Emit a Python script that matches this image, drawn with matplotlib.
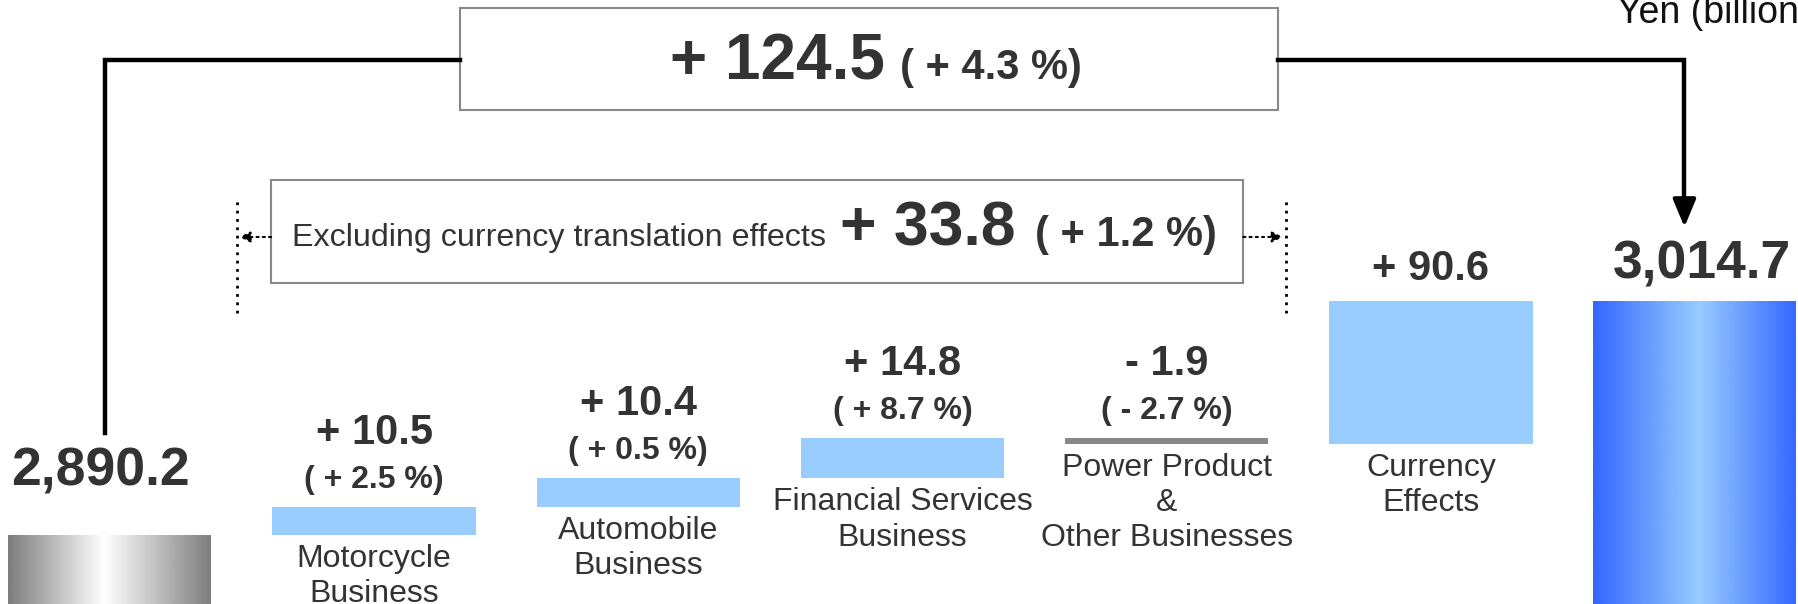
import numpy as np
import matplotlib.pyplot as plt
from matplotlib.colors import LinearSegmentedColormap
from matplotlib.patches import Rectangle

plt.rcParams['font.family'] = ['Liberation Sans', 'DejaVu Sans']

# data (yen billions)
start_value = 2890.2
end_value = 3014.7
categories = ['Motorcycle\nBusiness', 'Automobile\nBusiness', 'Financial Services\nBusiness',
              'Power Product\n&\nOther Businesses', 'Currency\nEffects']
changes = [10.5, 10.4, 14.8, -1.9, 90.6]
change_labels = ['+ 10.5', '+ 10.4', '+ 14.8', '- 1.9', '+ 90.6']
pct_labels = ['( + 2.5 %)', '( + 0.5 %)', '( + 8.7 %)', '( - 2.7 %)', '']
start_label = '2,890.2'
end_label = '3,014.7'
total_change_label = '+ 124.5'
total_pct_label = '( + 4.3 %)'
excl_text = 'Excluding currency translation effects'
excl_change_label = '+ 33.8'
excl_pct_label = '( + 1.2 %)'
unit_label = 'Yen (billions)'

TXT = '#333333'
LIGHT = '#99ccff'
bar_colors = [LIGHT, LIGHT, LIGHT, '#888888', LIGHT]

# the original chart squeezes the currency step, so do the same with a piecewise scale
BREAK = 2926.0
SQUEEZE = 0.574


def fwd(v):
    v = np.asarray(v, dtype=float)
    return np.where(v <= BREAK, v, BREAK + (v - BREAK) * SQUEEZE)


def inv(t):
    t = np.asarray(t, dtype=float)
    return np.where(t <= BREAK, t, BREAK + (t - BREAK) / SQUEEZE)


W, H = 1798, 604
fig = plt.figure(figsize=(W / 100, H / 100), dpi=100)
ax = fig.add_axes([0, 0, 1, 1])
ax.axis('off')
ax.set_yscale('function', functions=(fwd, inv))

px_per_unit = 2.7
y_bottom = 2864.6
y_top = float(inv(y_bottom + H / px_per_unit))


def fy(py):
    # pixel row from top -> axes fraction
    return 1 - py / H


trans = ax.get_xaxis_transform()

# step bars
steps = np.array(changes)
bottoms = start_value + np.cumsum(steps) - steps
xs = np.arange(1, len(changes) + 1)
bars = ax.bar(xs, steps, bottom=bottoms, width=0.77, color=bar_colors, zorder=2)

# start / end bars with gradient fill
gray_cmap = LinearSegmentedColormap.from_list('g', [(0, '#7d7d7d'), (0.47, '#ffffff'), (1, '#7d7d7d')])
blue_cmap = LinearSegmentedColormap.from_list('b', [(0, '#3366ff'), (0.52, '#99ccff'), (1, '#3366ff')])
ends = ax.bar([0, len(changes) + 1], [start_value, end_value], width=0.77, color='none', zorder=2)
grad = np.linspace(0, 1, 256).reshape(1, -1)
for patch, cmap in zip(ends, [gray_cmap, blue_cmap]):
    x0 = patch.get_x()
    x1 = x0 + patch.get_width()
    im = ax.imshow(grad, cmap=cmap, extent=[x0, x1, y_bottom, patch.get_height()],
                   aspect='auto', zorder=2, interpolation='bicubic')
    im.set_clip_path(patch)

# labels on steps
for i, (x, b, c) in enumerate(zip(xs, bottoms, steps)):
    top = max(b, b + c)
    low = min(b, b + c)
    has_pct = pct_labels[i] != ''
    ax.annotate(change_labels[i], (x, top), xytext=(0, 74 if has_pct else 32),
                textcoords='offset pixels', ha='center', va='center',
                fontsize=30, weight='bold', color=TXT)
    if has_pct:
        ax.annotate(pct_labels[i], (x, top), xytext=(0, 27), textcoords='offset pixels',
                    ha='center', va='center', fontsize=23, weight='bold', color=TXT)
    ax.annotate(categories[i], (x, low), xytext=(0, -9), textcoords='offset pixels',
                ha='center', va='top', fontsize=23, color=TXT, linespacing=1.22)

ax.annotate(start_label, (0, start_value), xytext=(-10, 63), textcoords='offset pixels',
            ha='center', va='center', fontsize=38.5, weight='bold', color=TXT)
ax.annotate(end_label, (len(changes) + 1, end_value), xytext=(7, 36), textcoords='offset pixels',
            ha='center', va='center', fontsize=38.5, weight='bold', color=TXT)

# total change box and connector
ax.add_patch(Rectangle((1.325, fy(110)), 4.42 - 1.325, 102 / H, transform=trans,
                       facecolor='white', edgecolor='#888888', lw=1.5, zorder=3))
ax.text(2.933, fy(79), total_change_label, transform=trans, ha='right', va='baseline',
        fontsize=46, weight='bold', color=TXT, zorder=4)
ax.text(2.99, fy(79), total_pct_label, transform=trans, ha='left', va='baseline',
        fontsize=30, weight='bold', color=TXT, zorder=4)
ax.plot([-0.02, -0.02, 1.325], [fy(433), fy(60), fy(60)], transform=trans,
        color='black', lw=3.2, solid_joinstyle='miter', zorder=3)
ax.plot([4.42, 5.96, 5.96], [fy(60), fy(60), fy(215)], transform=trans,
        color='black', lw=3.2, solid_joinstyle='miter', zorder=3)
ax.annotate('', xy=(5.96, fy(227)), xytext=(5.96, fy(205)), xycoords=trans, textcoords=trans,
            arrowprops=dict(arrowstyle='-|>,head_length=0.6,head_width=0.25', color='black', lw=3,
                            mutation_scale=28, shrinkA=0, shrinkB=0), zorder=3)

# excluding currency box
ax.add_patch(Rectangle((0.61, fy(283)), 4.29 - 0.61, 103 / H, transform=trans,
                       facecolor='white', edgecolor='#888888', lw=1.5, zorder=3))
ax.text(0.689, fy(246), excl_text, transform=trans, ha='left', va='baseline',
        fontsize=23.2, color=TXT, zorder=4)
ax.text(2.763, fy(246), excl_change_label, transform=trans, ha='left', va='baseline',
        fontsize=45, weight='bold', color=TXT, zorder=4)
ax.text(3.501, fy(246), excl_pct_label, transform=trans, ha='left', va='baseline',
        fontsize=30, weight='bold', color=TXT, zorder=4)
for xd in [0.48, 4.45]:
    ax.plot([xd, xd], [fy(313), fy(197)], transform=trans, color='black', lw=2,
            ls=(0, (1, 2)), zorder=3)
for x_from, x_to in [(0.61, 0.49), (4.29, 4.44)]:
    ax.annotate('', xy=(x_to, fy(237)), xytext=(x_from, fy(237)), xycoords=trans, textcoords=trans,
                arrowprops=dict(arrowstyle='-|>', color='black', lw=1.5, ls=(0, (1, 2)),
                                mutation_scale=16, shrinkA=0, shrinkB=0), zorder=3)

ax.text(5.705, fy(23), unit_label, transform=trans, ha='left', va='baseline',
        fontsize=27, color='#111111')

ax.set_xlim(-110 / 264.2, 6 + 103 / 264.2)
ax.set_ylim(y_bottom, y_top)

fig.savefig('out.png', dpi=100)
